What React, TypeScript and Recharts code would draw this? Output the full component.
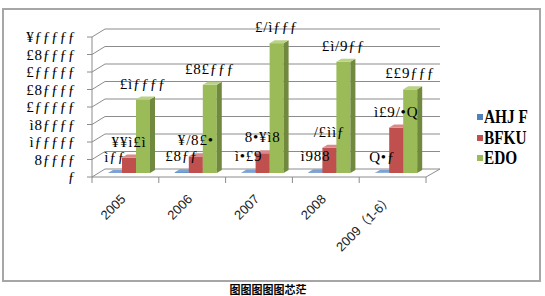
import React from 'react';
import { BarChart, Bar, XAxis, YAxis, CartesianGrid, ReferenceLine, LabelList } from 'recharts';

const categories = ['2005', '2006', '2007', '2008', '2009（1-6）'];
const seriesNames = ['AHJ F', 'BFKU', 'EDO'];
const blueValues = [100, 2500, 1629, 1955, 860];
const redValues = [44121, 47526, 56415, 72110, 129768];
const greenValues = [210000, 252000, 371000, 317900, 239000];
const yTicks = [0, 50000, 100000, 150000, 200000, 250000, 300000, 350000, 400000];
const titleText = '图图图图图芯茫';

// faces: front, side, top
const palette = [
  ['#4f81bd', '#385d8a', '#7da2d4'],
  ['#c0504d', '#953735', '#d98a88'],
  ['#9bbb59', '#71893f', '#b9d285'],
];

const data = categories.map((name, i) => ({
  name,
  blue: blueValues[i],
  red: redValues[i],
  green: greenValues[i],
}));

// the digits show up in a broken font in the original, keep that look
const glyphs: Record<string, string> = {
  '0': 'ƒ', '1': 'ì', '2': '£', '3': '£', '4': '¥',
  '5': '8', '6': '•', '7': '/', '8': 'Q', '9': '9',
};
const garble = (v: any) => String(v).split('').map((c) => glyphs[c] ?? c).join('');

const GRID = '#8c8c8c';
const OX = 4, OY = -4; // bars sit a bit behind the front plane
const DX = 5, DY = -3; // bar depth
const WX = 13, WY = -8; // back wall offset

const serif = 'Liberation Serif, serif';

const makeBox = (faces: string[]) => (p: any) => {
  const { x, y, width: w, height: h } = p;
  if (x == null || y == null) return <g />;
  const fx = x + OX, fy = y + OY;
  return (
    <g>
      <rect x={fx} y={fy} width={w} height={Math.max(h, 0)} fill={faces[0]} />
      <polygon
        points={`${fx + w},${fy} ${fx + w + DX},${fy + DY} ${fx + w + DX},${fy + h + DY} ${fx + w},${fy + h}`}
        fill={faces[1]}
      />
      <polygon
        points={`${fx},${fy} ${fx + DX},${fy + DY} ${fx + w + DX},${fy + DY} ${fx + w},${fy}`}
        fill={faces[2]}
      />
    </g>
  );
};

const barLabel = (p: any) => {
  const { x, y, width, value } = p;
  return (
    <text x={x + width / 2 + OX} y={y + OY - 11} textAnchor="middle" fontFamily={serif} fontSize={15} letterSpacing={0.8} fill="#000">
      {garble(value)}
    </text>
  );
};

const wallLine = (p: any) => {
  const { x1, y1, x2, key } = p;
  return (
    <path key={key} d={`M${x1},${y1}L${x1 + WX},${y1 + WY}L${x2 + WX + 1},${y1 + WY}`} stroke={GRID} fill="none" />
  );
};

const floorLine = (p: any) => {
  const { x1, y1, x2 } = p;
  return <path d={`M${x1},${y1}L${x2},${y1}L${x2 + WX + 1},${y1 + WY}`} stroke={GRID} fill="none" />;
};

const CatTick = (p: any) => {
  const { x, y, payload, index, visibleTicksCount, width } = p;
  const half = payload?.offset ?? width / visibleTicksCount / 2;
  const top = y - 8;
  const ax = x + 1, ay = y + 15;
  return (
    <g>
      <line x1={x - half} y1={top} x2={x - half} y2={top + 6} stroke={GRID} />
      {index === visibleTicksCount - 1 && <line x1={x + half} y1={top} x2={x + half} y2={top + 6} stroke={GRID} />}
      <text
        x={ax}
        y={ay}
        textAnchor="end"
        transform={`rotate(-45 ${ax} ${ay})`}
        fontFamily="Liberation Sans, Noto Sans CJK SC, sans-serif"
        fontSize={13}
        fill="#222"
      >
        {payload.value}
      </text>
    </g>
  );
};

const keys = ['blue', 'red', 'green'];

export default function App() {
  return (
    <div style={{ position: 'absolute', left: 0, top: 0, width: 545, height: 296, background: '#fff' }}>
      <div
        style={{
          position: 'absolute', left: 2, top: 8, width: 539, height: 274,
          border: '2px solid #a6a6a6', boxSizing: 'border-box',
        }}
      />
      <div style={{ position: 'absolute', left: 0, top: 0 }}>
        <BarChart
          width={545}
          height={296}
          data={data}
          margin={{ top: 37, right: 119, bottom: 59, left: 0 }}
          barSize={14}
          barGap={0}
        >
          <CartesianGrid vertical={false} horizontal={wallLine} />
          <ReferenceLine y={0} shape={floorLine} />
          <XAxis
            dataKey="name"
            height={60}
            interval={0}
            axisLine={false}
            tickLine={false}
            tickSize={6}
            tickMargin={2}
            tick={<CatTick />}
          />
          <YAxis
            domain={[0, 400000]}
            ticks={yTicks}
            interval={0}
            width={92}
            allowDataOverflow
            tickFormatter={garble}
            tick={{ fontFamily: serif, fontSize: 15, fill: '#000', letterSpacing: 0.8 }}
            tickSize={5}
            tickMargin={11}
            axisLine={{ stroke: GRID }}
            tickLine={{ stroke: GRID }}
          />
          {keys.map((k, i) => (
            <Bar key={k} dataKey={k} name={seriesNames[i]} fill={palette[i][0]} isAnimationActive={false} shape={makeBox(palette[i])}>
              <LabelList dataKey={k} content={barLabel} />
            </Bar>
          ))}
        </BarChart>
      </div>
      <div style={{ position: 'absolute', left: 477, top: 107 }}>
        {seriesNames.map((n, i) => (
          <div key={n} style={{ display: 'flex', alignItems: 'center', height: 20.5 }}>
            <span style={{ width: 6, height: 6, background: palette[i][0], marginRight: 1 }} />
            <span
              style={{
                fontFamily: 'Liberation Serif, serif', fontSize: 18, fontWeight: 'bold', color: '#000',
                lineHeight: '20px', display: 'inline-block', transform: 'scaleX(0.85)', transformOrigin: 'left center',
              }}
            >
              {n}
            </span>
          </div>
        ))}
      </div>
      <div
        style={{
          position: 'absolute', left: 0, top: 283, width: 536, textAlign: 'center', lineHeight: '12px',
          fontFamily: 'Noto Sans CJK SC, sans-serif', fontSize: 11, fontWeight: 'bold', color: '#000',
        }}
      >
        {titleText}
      </div>
    </div>
  );
}
